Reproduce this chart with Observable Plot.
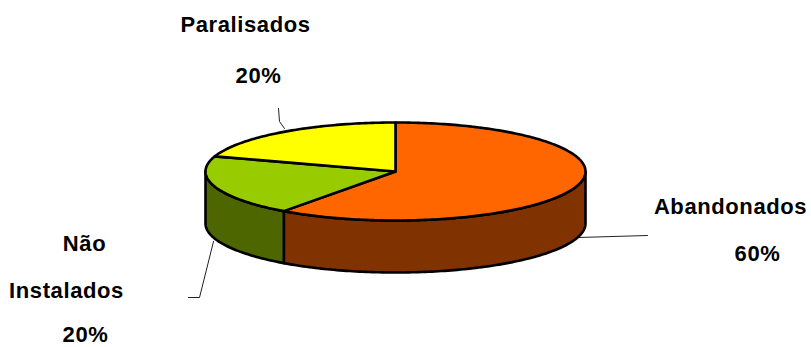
<!DOCTYPE html>
<html>
<head>
<meta charset="utf-8">
<script src="https://cdn.jsdelivr.net/npm/d3@7"></script>
<script src="https://cdn.jsdelivr.net/npm/@observablehq/plot@0.6"></script>
<style>
  html, body { margin: 0; padding: 0; background: #fff; }
  svg { display: block; }
  svg text { letter-spacing: 0.6px; }
</style>
</head>
<body>
<div id="chart"></div>
<script>
// ---- data ----
const categories = ["Abandonados", "Não Instalados", "Paralisados"];
const values = [60, 20, 20];
const pctLabels = ["60%", "20%", "20%"];

// ---- styles ----
const topColors = {"Abandonados": "#FF6600", "Não Instalados": "#99CC00", "Paralisados": "#FFFF00"};
const sideColors = {"Abandonados": "#803300", "Não Instalados": "#4D6600", "Paralisados": "#808000"};

// ---- layout ----
const W = 811, H = 347;
const cx = 395, cy = 171, rx = 190, ry = 49, depth = 52;
// label layout (name line(s) and percent), leader lines
const labelLayout = {
  "Abandonados": {name: [[730, 206]], pct: [757, 253]},
  "Não Instalados": {name: [[84, 243], [66, 290]], pct: [85, 334]},
  "Paralisados": {name: [[245, 24]], pct: [258, 75]}
};
const leaderLayout = {
  "Abandonados": [[578, 237], [647, 235]],
  "Não Instalados": [[213, 241], [199, 297], [188, 297]],
  "Paralisados": [[278, 108], [279, 121], [284, 128]]
};

// ---- geometry from data ----
const total = d3.sum(values);
const pt = (t, dy = 0) => [cx + rx * Math.sin(t), cy - ry * Math.cos(t) + dy];
const arc = (a, b, dy = 0) => {
  const n = Math.max(2, Math.ceil(Math.abs(b - a) / (Math.PI / 180)));
  return d3.range(n + 1).map(i => pt(a + (b - a) * i / n, dy));
};

let acc = 0;
const slices = categories.map((c, i) => {
  const a0 = acc / total * 2 * Math.PI;
  acc += values[i];
  const a1 = acc / total * 2 * Math.PI;
  return {c, a0, a1};
});

const sidePts = [];
const topPts = [];
slices.forEach(({c, a0, a1}) => {
  const s = Math.max(a0, Math.PI / 2), e = Math.min(a1, 3 * Math.PI / 2);
  if (e > s) {
    const poly = [...arc(s, e), ...arc(e, s, depth)];
    poly.push(poly[0]);
    poly.forEach(([x, y]) => sidePts.push({x, y, key: c, fill: sideColors[c]}));
  }
  const poly = [[cx, cy], ...arc(a0, a1), [cx, cy]];
  poly.forEach(([x, y]) => topPts.push({x, y, key: c, fill: topColors[c]}));
});

const leaders = [];
categories.forEach(c => leaderLayout[c].forEach(([x, y]) => leaders.push({x, y, key: c})));

const texts = [];
categories.forEach((c, i) => {
  const L = labelLayout[c];
  const words = L.name.length > 1 ? c.split(" ") : [c];
  L.name.forEach(([x, y], j) => texts.push({x, y, t: words[j]}));
  texts.push({x: L.pct[0], y: L.pct[1], t: pctLabels[i]});
});

const chart = Plot.plot({
  width: W, height: H,
  margin: 0,
  x: {domain: [0, W], axis: null},
  y: {domain: [0, H], reverse: true, axis: null},
  color: {type: "identity"},
  marks: [
    Plot.line(leaders, {x: "x", y: "y", z: "key", stroke: "#222", strokeWidth: 1, curve: "linear"}),
    Plot.line(sidePts, {x: "x", y: "y", z: "key", fill: "fill", stroke: "#000", strokeWidth: 2.6, strokeLinejoin: "round"}),
    Plot.line(topPts, {x: "x", y: "y", z: "key", fill: "fill", stroke: "#000", strokeWidth: 2.6, strokeLinejoin: "round"}),
    Plot.text(texts, {x: "x", y: "y", text: "t", fontSize: 22, fontWeight: "bold", fill: "#000",
      fontFamily: "'Liberation Sans', Arial, sans-serif", textAnchor: "middle"})
  ]
});
document.getElementById("chart").appendChild(chart);
</script>
</body>
</html>
